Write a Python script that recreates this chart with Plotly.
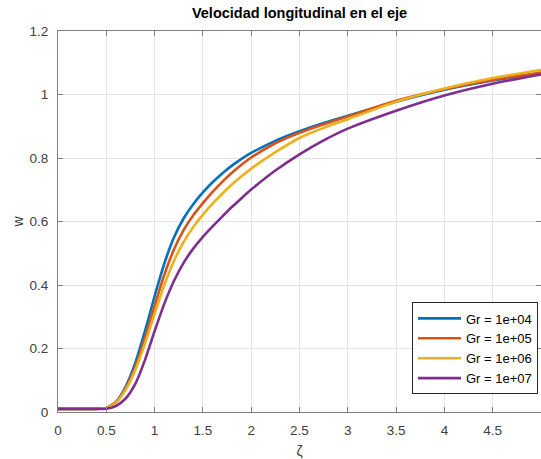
import plotly.graph_objects as go

zeta = [0, 0.1, 0.2, 0.3, 0.4, 0.5, 0.6, 0.7, 0.8, 0.9, 1.0, 1.1, 1.2, 1.3, 1.4, 1.5,
        1.6, 1.7, 1.8, 1.9, 2.0, 2.25, 2.5, 2.75, 3.0, 3.5, 4.0, 4.5, 5.0]

w_gr1e4 = [0.01, 0.01, 0.01, 0.01, 0.01, 0.012, 0.032, 0.0795, 0.1545, 0.2545, 0.3645, 0.467, 0.5495, 0.6095, 0.6545, 0.6915,
           0.7235, 0.7515, 0.776, 0.7975, 0.816, 0.854, 0.884, 0.910, 0.933, 0.977, 1.015, 1.044, 1.068]
w_gr1e5 = [0.01, 0.01, 0.01, 0.01, 0.01, 0.012, 0.0305, 0.074, 0.1415, 0.2315, 0.334, 0.4315, 0.5115, 0.5725, 0.6195, 0.658,
           0.693, 0.725, 0.7535, 0.779, 0.8015, 0.8465, 0.8795, 0.9065, 0.931, 0.980, 1.017, 1.046, 1.069]
w_gr1e6 = [0.01, 0.01, 0.01, 0.01, 0.01, 0.012, 0.0295, 0.0695, 0.132, 0.2155, 0.309, 0.399, 0.4755, 0.5355, 0.5825, 0.6215,
           0.656, 0.6875, 0.7165, 0.7425, 0.7665, 0.8185, 0.863, 0.895, 0.922, 0.977, 1.019, 1.052, 1.077]
w_gr1e7 = [0.01, 0.01, 0.01, 0.01, 0.01, 0.01, 0.019, 0.0425, 0.0885, 0.1635, 0.2545, 0.3405, 0.4125, 0.4695, 0.5145, 0.5515,
           0.5845, 0.6155, 0.6455, 0.6735, 0.7005, 0.7605, 0.8115, 0.8555, 0.8925, 0.949, 0.997, 1.034, 1.063]

series_names = ["Gr = 1e+04", "Gr = 1e+05", "Gr = 1e+06", "Gr = 1e+07"]
series_values = [w_gr1e4, w_gr1e5, w_gr1e6, w_gr1e7]
colors = ["#0072BD", "#D95319", "#EDB120", "#7E2F8E"]

x_ticks = [0, 0.5, 1, 1.5, 2, 2.5, 3, 3.5, 4, 4.5, 5]
x_ticklabels = ["0", "0.5", "1", "1.5", "2", "2.5", "3", "3.5", "4", "4.5", "5"]
y_ticks = [0, 0.2, 0.4, 0.6, 0.8, 1.0, 1.2]
y_ticklabels = ["0", "0.2", "0.4", "0.6", "0.8", "1", "1.2"]

fig = go.Figure()
for name, vals, col in zip(series_names, series_values, colors):
    fig.add_trace(go.Scatter(x=zeta, y=vals, mode="lines", name=name,
                             line=dict(color=col, width=2.6, shape="spline", smoothing=0.6)))

axis_col = "#808080"
font_fam = "Liberation Sans, Arial, sans-serif"

fig.update_layout(
    width=541, height=459,
    margin=dict(l=58, r=0, t=31, b=47),
    paper_bgcolor="white", plot_bgcolor="white",
    font=dict(family=font_fam, size=13.5, color="#404040"),
    title=dict(text="<b>Velocidad longitudinal en el eje</b>", x=0.5, xref="paper",
               y=1 - 13 / 459, yanchor="middle", xanchor="center",
               font=dict(size=14.5, color="#000000", family=font_fam)),
    showlegend=True,
    legend=dict(x=0.9938, y=0.046, xanchor="right", yanchor="bottom",
                bgcolor="white", bordercolor="#262626", borderwidth=1,
                font=dict(size=13, color="#000000"), itemwidth=43,
                tracegroupgap=0),
)
fig.update_xaxes(range=[0, 5], tickvals=x_ticks, ticktext=x_ticklabels,
                 showgrid=True, gridcolor="#e3e3e3", gridwidth=1,
                 showline=True, linecolor=axis_col, linewidth=1, mirror="allticks",
                 ticks="inside", ticklen=5, tickcolor=axis_col,
                 zeroline=False, ticklabelstandoff=6,
                 title=dict(text="ζ", standoff=9, font=dict(size=14, color="#404040")))
fig.update_yaxes(range=[0, 1.2], tickvals=y_ticks, ticktext=y_ticklabels,
                 showgrid=True, gridcolor="#e3e3e3", gridwidth=1,
                 showline=True, linecolor=axis_col, linewidth=1, mirror="allticks",
                 ticks="inside", ticklen=5, tickcolor=axis_col,
                 zeroline=False, ticklabelstandoff=6,
                 title=dict(text="w", standoff=2, font=dict(size=14, color="#404040")))

fig.write_html("out.html")
